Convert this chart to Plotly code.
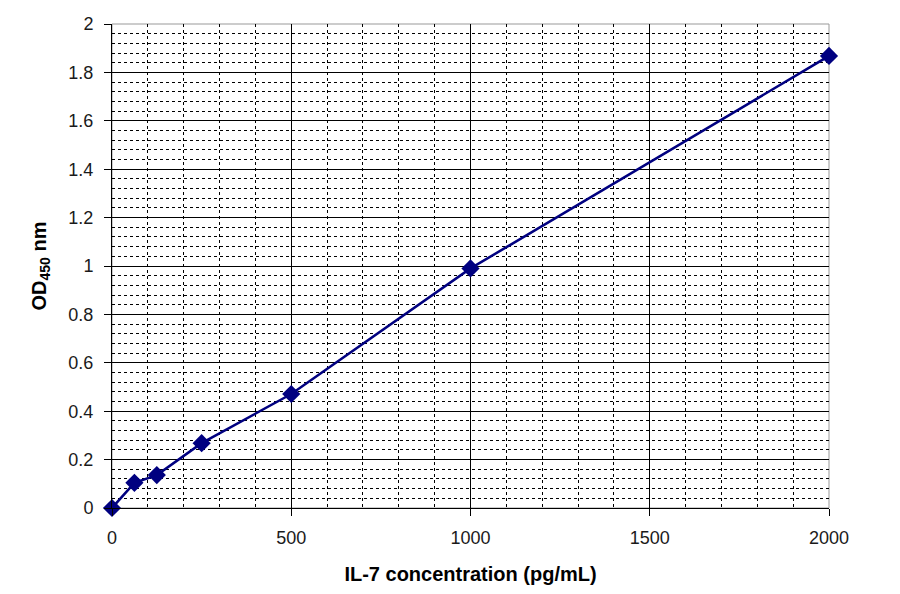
import plotly.graph_objects as go

conc = [0, 62.5, 125, 250, 500, 1000, 2000]
od = [0.0, 0.104, 0.136, 0.268, 0.471, 0.99, 1.868]

x_ticks = [0, 500, 1000, 1500, 2000]
y_ticks = [0, 0.2, 0.4, 0.6, 0.8, 1, 1.2, 1.4, 1.6, 1.8, 2]

navy = "#000080"
font = "Liberation Sans, Arial, sans-serif"

fig = go.Figure()
fig.add_trace(go.Scatter(
    x=conc, y=od, mode="lines+markers",
    line=dict(color=navy, width=2.5),
    marker=dict(symbol="diamond", size=14, color=navy),
    cliponaxis=False, showlegend=False,
))

fig.update_layout(
    width=900, height=594,
    margin=dict(l=104, r=79, t=16, b=94, autoexpand=False),
    paper_bgcolor="white", plot_bgcolor="white",
    font=dict(family=font, size=18, color="black"),
    xaxis=dict(
        range=[0, 2000], tickvals=x_ticks, ticktext=[str(v) for v in x_ticks],
        showgrid=True, gridcolor="black", gridwidth=1,
        minor=dict(dtick=100, showgrid=True, gridcolor="black", griddash="3px,3px", gridwidth=1),
        showline=True, linecolor="black", linewidth=1, mirror=False,
        ticks="outside", ticklen=7, tickcolor="black", zeroline=False,
        ticklabelstandoff=6, automargin=False,
        title=dict(text="<b>IL-7 concentration (pg/mL)</b>", font=dict(size=20), standoff=20),
        tickfont=dict(size=18, color="#1a1a1a"),
    ),
    yaxis=dict(
        range=[0, 2], tickvals=y_ticks, ticktext=[f"{v:g}" for v in y_ticks],
        showgrid=True, gridcolor="black", gridwidth=1,
        minor=dict(dtick=0.04, showgrid=True, gridcolor="black", griddash="3px,3px", gridwidth=1),
        showline=True, linecolor="black", linewidth=1,
        ticks="outside", ticklen=7, tickcolor="black", zeroline=False,
        ticklabelstandoff=7, automargin=False,
        title=dict(text="<b>OD<sub>450</sub> nm</b>", font=dict(size=20), standoff=16),
        tickfont=dict(size=18, color="#1a1a1a"),
    ),
)
fig.add_shape(type="rect", xref="paper", yref="paper", x0=0, y0=0, x1=1, y1=1,
              line=dict(color="#999", width=1), layer="below")
fig.write_html("out.html")
